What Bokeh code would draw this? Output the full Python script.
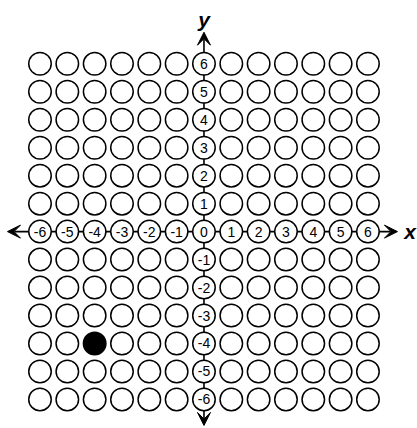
from bokeh.plotting import figure
from bokeh.models import Arrow, VeeHead, Range1d
from bokeh.core.properties import value
from bokeh.embed import file_html
from bokeh.resources import INLINE

# ---- data ----
grid_values = [-6, -5, -4, -3, -2, -1, 0, 1, 2, 3, 4, 5, 6]
x_tick_labels = ["-6", "-5", "-4", "-3", "-2", "-1", "0", "1", "2", "3", "4", "5", "6"]
y_tick_values = [-6, -5, -4, -3, -2, -1, 1, 2, 3, 4, 5, 6]
y_tick_labels = ["-6", "-5", "-4", "-3", "-2", "-1", "1", "2", "3", "4", "5", "6"]
point_x = [-4]
point_y = [-4]
axis_names = ["x", "y"]

# ---- figure ----
p = figure(width=417, height=428, output_backend="svg", toolbar_location=None,
           x_range=Range1d(-7.445, 7.813), y_range=Range1d(-7.039, 8.263),
           min_border=0, min_border_left=0, min_border_right=0,
           min_border_top=0, min_border_bottom=0)
p.axis.visible = False
p.grid.visible = False
p.outline_line_color = None
p.background_fill_color = "white"
p.border_fill_color = "white"

gmin, gmax = min(grid_values), max(grid_values)


def head():
    return VeeHead(size=13, fill_color="black", line_color="black", line_width=1)


ax_x = Arrow(x_start=gmin - 1.19, y_start=0, x_end=gmax + 1.08, y_end=0,
             line_width=1.6, line_color="black", start=head(), end=head(),
             level="underlay")
ax_y = Arrow(x_start=0, y_start=gmin - 0.93, x_end=0, y_end=gmax + 1.13,
             line_width=1.6, line_color="black", start=head(), end=head(),
             level="underlay")
p.add_layout(ax_x)
p.add_layout(ax_y)

# grid of circles
gx, gy = [], []
for yv in grid_values:
    for xv in grid_values:
        if not any(xv == px and yv == py for px, py in zip(point_x, point_y)):
            gx.append(xv)
            gy.append(yv)
p.scatter(gx, gy, marker="circle", size=22.5, fill_color="white",
          line_color="black", line_width=1.5)
p.scatter(point_x, point_y, marker="circle", size=22.5, fill_color="black",
          line_color="black", line_width=1.5)

# tick labels inside circles
font = value("Liberation Sans")
p.text(x=grid_values, y=[0] * len(grid_values), text=x_tick_labels,
       text_font=font, text_font_size="14px", text_align="center",
       text_baseline="middle", text_color="black")
p.text(x=[0] * len(y_tick_values), y=y_tick_values, text=y_tick_labels,
       text_font=font, text_font_size="14px", text_align="center",
       text_baseline="middle", text_color="black")

# axis names
p.text(x=[gmax + 1.54], y=[0], text=[axis_names[0]],
       text_font=value("Liberation Sans"), text_font_size="21px",
       text_font_style="bold italic", text_align="center",
       text_baseline="middle", text_color="black")
p.text(x=[0], y=[gmax + 1.57], text=[axis_names[1]],
       text_font=value("Liberation Sans"), text_font_size="21px",
       text_font_style="bold italic", text_align="center",
       text_baseline="middle", text_color="black")

open("out.html", "w").write(file_html(p, INLINE))
